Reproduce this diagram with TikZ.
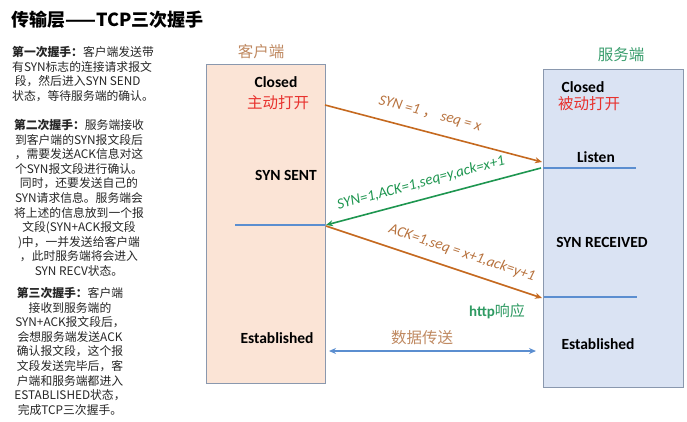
\documentclass[tikz,border=0pt]{standalone}
\usepackage{fontspec}
\setmainfont{Carlito}
\newfontfamily\cjk{Noto Sans CJK SC}
\usetikzlibrary{arrows.meta}
\definecolor{arrbrown}{HTML}{C5691F}
\definecolor{lblbrown}{HTML}{B8733F}
\definecolor{arrgreen}{HTML}{1E9650}
\definecolor{lblgreen}{HTML}{2E9A62}
\definecolor{lineblue}{HTML}{5B8ED0}
\definecolor{clientfill}{HTML}{FBE4D6}
\definecolor{serverfill}{HTML}{DAE3F3}
\definecolor{boxborder}{HTML}{8A98AE}
\definecolor{redtxt}{HTML}{E8322E}
\definecolor{titlebrown}{HTML}{C08A62}
\definecolor{titlegreen}{HTML}{3A9E6E}
\tikzset{
  para/.style={inner sep=0, font=\cjk\fontsize{11.8}{14.6}\selectfont, text=black!85},
  state/.style={inner sep=0, font=\bfseries\fontsize{15.5}{18}\selectfont},
  redlbl/.style={inner sep=0, text=redtxt, font=\cjk\fontsize{15.5}{18}\selectfont},
  arrlbl/.style={inner sep=0, font=\itshape\fontsize{15}{18}\selectfont},
  sideline/.style={lineblue, line width=1.3pt},
  msg/.style={line width=1.6pt, -{Stealth[length=7pt,width=6pt]}},
}
\begin{document}
\begin{tikzpicture}[x=1pt,y=-1pt]
\useasboundingbox[fill=white] (0,0) rectangle (687,421);

% title
\node[anchor=west, inner sep=0, font=\cjk\bfseries\fontsize{18}{20}\selectfont] (title) at (11,20) {传输层——TCP三次握手};

% left paragraphs
\node[para, anchor=north west, align=left] (p1) at (12,46)
 {{\bfseries 第一次握手：}客户端发送带\\有SYN标志的连接请求报文\\\ 段，然后进入SYN SEND\\状态，等待服务端的确认。};
\node[para, anchor=north, align=center] (p2) at (79,119)
 {{\bfseries 第二次握手：}服务端接收\\到客户端的SYN报文段后\\，需要发送ACK信息对这\\个SYN报文段进行确认。\\同时，还要发送自己的\\SYN请求信息。服务端会\\将上述的信息放到一个报\\文段(SYN+ACK报文段\\)中，一并发送给客户端\\，此时服务端将会进入\\SYN RECV状态。};
\node[para, anchor=north, align=center] (p3) at (70,287)
 {{\bfseries 第三次握手：}客户端\\接收到服务端的\\SYN+ACK报文段后，\\会想服务端发送ACK\\确认报文段，这个报\\文段发送完毕后，客\\户端和服务端都进入\\ESTABLISHED状态，\\完成TCP三次握手。};

% boxes
\node[draw=boxborder, fill=clientfill, line width=1pt, anchor=north west, inner sep=0, outer sep=0,
      minimum width=119, minimum height=319] (client) at (206,64) {};
\node[draw=boxborder, fill=serverfill, line width=1pt, anchor=north west, inner sep=0, outer sep=0,
      minimum width=140, minimum height=318] (server) at (543,69) {};

\node[inner sep=0, text=titlebrown, font=\cjk\fontsize{15.5}{18}\selectfont] (clientT) at (261,52) {客户端};
\node[inner sep=0, text=titlegreen, font=\cjk\fontsize{15.5}{18}\selectfont] (serverT) at (621,55) {服务端};

% client states
\node[state] (cclosed) at (276,82) {Closed};
\node[redlbl] (copen) at (278,103) {主动打开};
\node[state] (csent) at (286,175) {SYN SENT};
\node[state] (cest) at (277,338) {Established};

% server states
\node[state] (sclosed) at (583,87) {Closed};
\node[redlbl] (sopen) at (589,104) {被动打开};
\node[state] (slisten) at (596,157) {Listen};
\node[state] (srecv) at (602,242) {SYN RECEIVED};
\node[state] (sest) at (598,344) {Established};

% side lines
\coordinate (cl1) at (235,225);
\coordinate (cl1e) at (325,225);
\coordinate (sl1) at (543,168);
\coordinate (sl1e) at (636,168);
\coordinate (sl2) at (544,297);
\coordinate (sl2e) at (637,297);
\draw[sideline] (cl1) -- (cl1e);
\draw[sideline] (sl1) -- (sl1e);
\draw[sideline] (sl2) -- (sl2e);

% messages
\coordinate (m1s) at (325,105);
\coordinate (m1e) at (542,162);
\coordinate (m2s) at (541,168);
\coordinate (m2e) at (326,225);
\coordinate (m3s) at (326,226);
\coordinate (m3e) at (542,298);
\draw[msg, arrbrown] (m1s) -- (m1e);
\draw[msg, arrgreen] (m2s) -- (m2e);
\draw[msg, arrbrown] (m3s) -- (m3e);

\node[arrlbl, text=lblbrown, rotate=-14.7] (l1) at (430,114) {SYN =1 {\cjk\upshape ，} seq = x};
\node[arrlbl, text=arrgreen, rotate=15] (l2) at (421,183) {SYN=1,ACK=1,seq=y,ack=x+1};
\node[arrlbl, text=lblbrown, rotate=-18.4] (l3) at (462,253) {ACK=1,seq = x+1,ack=y+1};

\node[inner sep=0, text=lblgreen, font=\bfseries\fontsize{15}{18}\selectfont] (http) at (497,311) {http{\cjk\mdseries 响应}};
\node[inner sep=0, text=titlebrown, font=\cjk\fontsize{15.5}{18}\selectfont] (data) at (422,338) {数据传送};

\coordinate (d1) at (329,351);
\coordinate (d2) at (536,351);
\draw[lineblue, line width=1.6pt, {Stealth[length=7pt,width=6pt]}-{Stealth[length=7pt,width=6pt]}] (d1) -- (d2);

\end{tikzpicture}
\end{document}
